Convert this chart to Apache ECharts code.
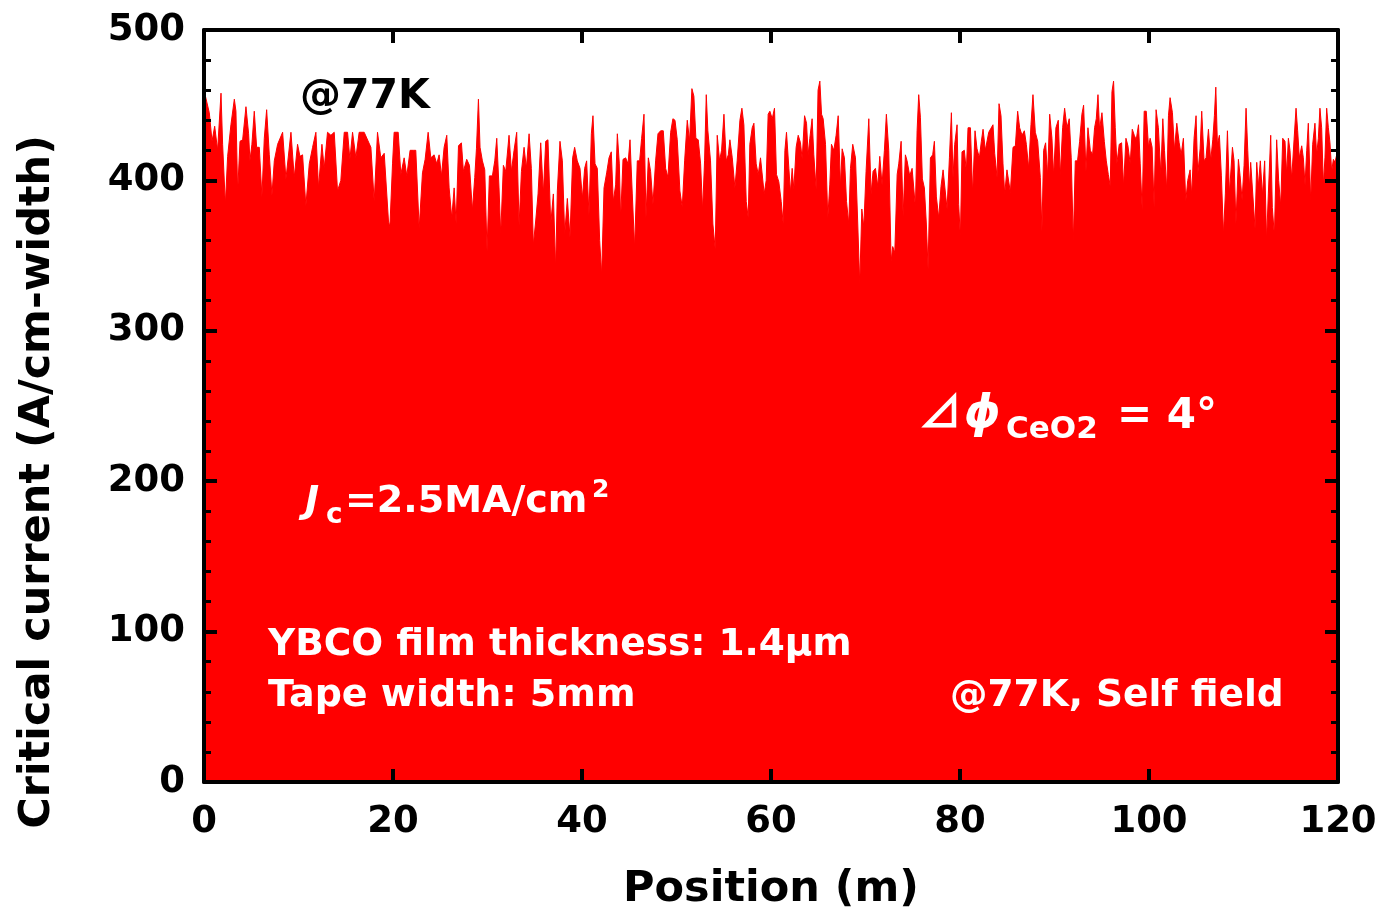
<!DOCTYPE html>
<html>
<head>
<meta charset="utf-8">
<title>Critical current vs position</title>
<script src="https://cdn.jsdelivr.net/npm/echarts@6/dist/echarts.min.js"></script>
<style>
  html, body { margin: 0; padding: 0; background: #fff; }
  #chart { width: 1381px; height: 914px; }
</style>
</head>
<body>
<div id="chart"></div>
<script>
// values (position in m, Ic in A/cm-width)
const positions = [
  0, 0.56, 0.85, 1.13, 1.44, 1.8, 1.97, 2.26, 2.5, 2.85, 3.21, 3.38, 3.56, 3.81, 4.09, 4.44, 4.72, 4.86, 5.07, 5.32,
  5.57, 5.85, 6.13, 6.38, 6.63, 6.91, 7.19, 7.44, 7.79, 8.32, 8.67, 9.2, 9.55, 9.9, 10.15, 10.43, 10.78, 11.14, 11.49, 11.84,
  12.12, 12.48, 12.72, 13.07, 13.43, 13.78, 14.13, 14.48, 14.84, 15.19, 15.44, 15.72, 16.07, 16.42, 16.95, 17.66, 18.01, 18.36, 18.71, 19.07,
  19.52, 19.67, 19.95, 20.12, 20.55, 20.83, 21.18, 21.46, 21.81, 22.17, 22.41, 22.77, 23.12, 23.4, 23.72, 24, 24.35, 24.63, 24.88, 25.13,
  25.41, 25.69, 25.94, 26.22, 26.47, 26.68, 26.93, 27.24, 27.45, 27.8, 28.09, 28.4, 28.65, 28.83, 29.04, 29.21, 29.46, 29.71, 29.95, 30.2,
  30.52, 30.77, 30.98, 31.22, 31.4, 31.68, 31.93, 32.28, 32.53, 32.81, 33.09, 33.34, 33.59, 33.87, 34.11, 34.4, 34.64, 34.85, 35.1, 35.35,
  35.63, 35.91, 36.16, 36.4, 36.69, 36.97, 37.21, 37.39, 37.67, 37.92, 38.17, 38.45, 38.73, 39.01, 39.22, 39.5, 39.79, 40.04, 40.28, 40.49,
  40.74, 40.99, 41.16, 41.38, 41.62, 41.87, 42.08, 42.33, 42.61, 42.86, 43.1, 43.31, 43.56, 43.74, 43.95, 44.09, 44.34, 44.62, 44.87, 45.08,
  45.32, 45.57, 45.85, 46.1, 46.31, 46.56, 46.77, 47.02, 47.26, 47.51, 47.79, 48.04, 48.32, 48.6, 48.85, 49.09, 49.38, 49.62, 49.84, 50.08,
  50.36, 50.61, 50.86, 51.14, 51.38, 51.63, 51.84, 52.05, 52.3, 52.55, 52.76, 52.97, 53.15, 53.32, 53.6, 53.85, 54.1, 54.31, 54.56, 54.77,
  55.02, 55.26, 55.48, 55.65, 55.9, 56.18, 56.42, 56.71, 56.92, 57.13, 57.38, 57.59, 57.76, 58.01, 58.19, 58.43, 58.65, 58.89, 59.1, 59.28,
  59.49, 59.7, 59.88, 60.13, 60.37, 60.58, 60.83, 61.08, 61.29, 61.47, 61.64, 61.89, 62.06, 62.24, 62.42, 62.66, 62.88, 63.12, 63.3, 63.55,
  63.76, 63.93, 64.11, 64.35, 64.53, 64.78, 64.98, 65.17, 65.35, 65.52, 65.77, 66.01, 66.22, 66.4, 66.65, 66.89, 67.11, 67.35, 67.53, 67.77,
  67.99, 68.23, 68.41, 68.65, 68.94, 69.18, 69.39, 69.61, 69.82, 70.06, 70.35, 70.59, 70.8, 71.05, 71.3, 71.51, 71.75, 72, 72.21, 72.46,
  72.71, 72.88, 73.1, 73.35, 73.52, 73.77, 73.98, 74.22, 74.4, 74.68, 74.93, 75.1, 75.28, 75.46, 75.63, 75.81, 76.02, 76.23, 76.44, 76.62,
  76.87, 77.11, 77.29, 77.5, 77.75, 77.99, 78.21, 78.38, 78.63, 78.88, 79.09, 79.26, 79.44, 79.69, 79.86, 80.04, 80.21, 80.46, 80.67, 80.85,
  81.1, 81.34, 81.59, 81.8, 82.05, 82.26, 82.44, 82.68, 82.86, 83.04, 83.21, 83.49, 83.67, 83.92, 84.13, 84.34, 84.55, 84.73, 84.97, 85.15,
  85.33, 85.61, 85.86, 86.1, 86.31, 86.56, 86.81, 87.02, 87.27, 87.51, 87.72, 87.97, 88.22, 88.5, 88.67, 88.85, 89.06, 89.27, 89.49, 89.73,
  89.91, 90.15, 90.4, 90.61, 90.86, 91.07, 91.32, 91.56, 91.77, 91.99, 92.2, 92.44, 92.66, 92.9, 93.08, 93.33, 93.54, 93.79, 94.03, 94.24,
  94.42, 94.6, 94.77, 95.02, 95.27, 95.48, 95.69, 95.9, 96.08, 96.25, 96.43, 96.6, 96.85, 97.1, 97.31, 97.56, 97.77, 98.01, 98.23, 98.44,
  98.65, 98.89, 99.07, 99.28, 99.49, 99.71, 99.95, 100.12, 100.33, 100.54, 100.75, 100.99, 101.25, 101.46, 101.64, 101.88, 102.06, 102.23, 102.48, 102.69,
  102.94, 103.19, 103.4, 103.64, 103.89, 104.1, 104.35, 104.52, 104.77, 104.98, 105.16, 105.41, 105.58, 105.83, 106.04, 106.29, 106.53, 106.75, 106.92, 107.07,
  107.24, 107.45, 107.66, 107.88, 108.08, 108.3, 108.51, 108.65, 108.83, 109, 109.2, 109.46, 109.64, 109.85, 110.06, 110.27, 110.45, 110.62, 110.76, 110.97,
  111.22, 111.4, 111.57, 111.78, 112, 112.24, 112.44, 112.63, 112.88, 113.05, 113.27, 113.51, 113.72, 113.94, 114.15, 114.39, 114.57, 114.75, 114.92, 115.1,
  115.35, 115.56, 115.73, 115.91, 116.16, 116.33, 116.51, 116.69, 116.86, 117.11, 117.32, 117.56, 117.74, 117.92, 118.09, 118.27, 118.45, 118.62, 118.8, 118.98,
  119.15, 119.33, 119.51, 119.68, 119.86, 120
]
const currents = [
  460, 445, 426, 436, 420, 458, 424, 384, 416, 437, 454, 446, 392, 426, 427, 449, 431, 413, 424, 446,
  422, 422, 389, 428, 447, 417, 390, 413, 424, 432, 401, 432, 402, 424, 416, 417, 383, 411, 422, 432,
  395, 424, 408, 432, 430, 432, 393, 400, 432, 432, 414, 432, 415, 432, 432, 422, 386, 432, 415, 418,
  373, 369, 411, 432, 432, 404, 415, 403, 420, 420, 420, 368, 405, 414, 432, 415, 417, 411, 417, 403,
  422, 430, 395, 375, 395, 371, 423, 425, 406, 414, 410, 380, 402, 421, 454, 422, 413, 407, 353, 403,
  403, 413, 428, 395, 364, 410, 406, 430, 406, 420, 432, 370, 406, 422, 408, 431, 408, 357, 373, 391,
  425, 391, 426, 427, 371, 391, 341, 393, 426, 413, 364, 388, 362, 415, 422, 413, 408, 388, 408, 413,
  377, 431, 443, 411, 408, 360, 337, 395, 405, 415, 419, 386, 397, 431, 411, 374, 414, 415, 411, 427,
  391, 355, 413, 413, 428, 444, 375, 415, 406, 384, 413, 431, 433, 433, 408, 402, 432, 441, 440, 427,
  393, 382, 413, 440, 426, 461, 456, 428, 427, 411, 380, 413, 457, 433, 413, 371, 354, 430, 413, 420,
  444, 413, 417, 427, 415, 395, 413, 440, 448, 437, 386, 375, 424, 435, 438, 411, 404, 415, 416, 391,
  400, 444, 446, 441, 448, 404, 399, 386, 371, 420, 432, 408, 392, 408, 394, 422, 430, 425, 414, 443,
  438, 417, 428, 441, 417, 394, 460, 466, 444, 441, 424, 375, 397, 424, 420, 430, 443, 396, 421, 415,
  386, 371, 408, 424, 415, 371, 331, 381, 369, 406, 441, 391, 406, 408, 396, 416, 397, 420, 444, 420,
  346, 356, 352, 404, 411, 426, 376, 417, 413, 403, 408, 408, 382, 433, 457, 442, 401, 395, 371, 341,
  415, 417, 426, 389, 375, 396, 407, 408, 381, 415, 445, 402, 424, 437, 384, 362, 419, 420, 406, 435,
  435, 391, 433, 421, 415, 426, 434, 420, 420, 432, 433, 437, 418, 402, 451, 443, 411, 391, 407, 406,
  392, 422, 423, 446, 435, 430, 433, 424, 408, 437, 457, 432, 426, 402, 366, 420, 425, 403, 444, 428,
  403, 435, 440, 403, 435, 448, 435, 441, 415, 359, 413, 413, 426, 444, 450, 406, 435, 420, 417, 435,
  441, 457, 434, 445, 426, 413, 404, 396, 459, 466, 435, 411, 424, 425, 396, 428, 423, 411, 434, 430,
  427, 437, 411, 380, 446, 446, 422, 428, 422, 382, 447, 435, 404, 441, 420, 393, 443, 455, 445, 420,
  438, 425, 417, 428, 386, 400, 407, 390, 428, 443, 404, 421, 446, 413, 415, 434, 413, 427, 443, 462,
  424, 430, 403, 364, 391, 433, 391, 390, 422, 413, 371, 414, 403, 387, 410, 448, 420, 395, 412, 412,
  368, 412, 396, 413, 390, 413, 360, 391, 430, 382, 363, 427, 400, 383, 428, 426, 404, 428, 420, 401,
  427, 448, 433, 415, 423, 415, 397, 420, 438, 386, 424, 438, 417, 428, 448, 435, 397, 415, 448, 435,
  425, 406, 414, 412, 417, 410
]
const xTicks = { min: 0, max: 120, interval: 20 }
const yTicks = { min: 0, max: 500, interval: 100 }

const FONT = '"DejaVu Sans", Verdana, sans-serif'
const RED = '#ff0000'

const chart = echarts.init(document.getElementById('chart'))

const axisLine = { show: true, onZero: false, lineStyle: { color: '#000', width: 4 } }
const axisTick = { show: true, inside: true, length: 13, lineStyle: { color: '#000', width: 4 } }
const minorTick = { show: true, splitNumber: 5, length: 7, lineStyle: { color: '#000', width: 3 } }
const tickFont = { fontFamily: FONT, fontWeight: 'bold', fontSize: 37, color: '#000' }
const titleFont = { fontFamily: FONT, fontWeight: 'bold', fontSize: 43, color: '#000' }

const label = (text, x, y, size, extra) => ({
  type: 'text',
  x: x,
  y: y,
  z: 10,
  style: Object.assign({
    text: text,
    fill: '#fff',
    font: 'bold ' + size + 'px ' + FONT,
    verticalAlign: 'middle'
  }, extra || {})
})

const option = {
  animation: false,
  backgroundColor: '#fff',
  // keep the plot box fixed, the axis title sits close to the bottom edge
  grid: { left: 204, right: 43, top: 30, bottom: 132, outerBoundsMode: 'none' },
  xAxis: [
    {
      type: 'value',
      position: 'bottom',
      min: xTicks.min,
      max: xTicks.max,
      interval: xTicks.interval,
      z: 5,
      axisLine: axisLine,
      axisTick: axisTick,
      splitLine: { show: false },
      axisLabel: Object.assign({ margin: 22 }, tickFont),
      name: 'Position (m)',
      nameLocation: 'middle',
      nameGap: 86,
      nameTextStyle: titleFont
    },
    {
      type: 'value',
      position: 'top',
      min: xTicks.min,
      max: xTicks.max,
      interval: xTicks.interval,
      z: 5,
      axisLine: axisLine,
      axisTick: axisTick,
      splitLine: { show: false },
      axisLabel: { show: false }
    }
  ],
  yAxis: [
    {
      type: 'value',
      position: 'left',
      min: yTicks.min,
      max: yTicks.max,
      interval: yTicks.interval,
      z: 5,
      axisLine: axisLine,
      axisTick: axisTick,
      minorTick: minorTick,
      splitLine: { show: false },
      minorSplitLine: { show: false },
      axisLabel: Object.assign({ margin: 19 }, tickFont)
    },
    {
      type: 'value',
      position: 'right',
      min: yTicks.min,
      max: yTicks.max,
      interval: yTicks.interval,
      z: 5,
      axisLine: axisLine,
      axisTick: axisTick,
      minorTick: minorTick,
      splitLine: { show: false },
      axisLabel: { show: false }
    }
  ],
  series: [
    {
      type: 'line',
      xAxisIndex: 0,
      yAxisIndex: 0,
      data: positions.map((p, i) => [p, currents[i]]),
      showSymbol: false,
      sampling: 'none',
      lineStyle: { color: RED, width: 1 },
      areaStyle: { color: RED, opacity: 1 },
      itemStyle: { color: RED }
    }
  ],
  graphic: [
    // y axis title, sits lower than the plot centre in the original
    {
      type: 'text', x: 38, y: 482, rotation: Math.PI / 2, z: 10,
      style: {
        text: 'Critical current (A/cm-width)', fill: '#000',
        font: 'bold 43px ' + FONT, align: 'center', verticalAlign: 'middle'
      }
    },
    label('@77K', 300, 97, 41, { fill: '#000' }),
    // Δφ CeO2 = 4°
    label('⊿', 918, 411, 44, { font: 'bold 44px "Noto Sans CJK JP", ' + FONT }),
    label('ϕ', 964, 415, 46, { font: 'italic bold 46px ' + FONT }),
    label('CeO2', 1006, 430, 31),
    label('= 4°', 1117, 417, 42),
    // Jc = 2.5 MA/cm2
    label('J', 305, 502, 38, { font: 'italic bold 38px ' + FONT }),
    label('c', 326, 516, 28),
    label('=2.5MA/cm', 345, 502, 38),
    label('2', 592, 490, 25),
    label('YBCO film thickness: 1.4μm', 268, 645, 37.5),
    label('Tape width: 5mm', 268, 696, 38),
    label('@77K, Self field', 950, 696, 37.5)
  ]
}

chart.setOption(option)
window.addEventListener('resize', () => chart.resize())
</script>
</body>
</html>
